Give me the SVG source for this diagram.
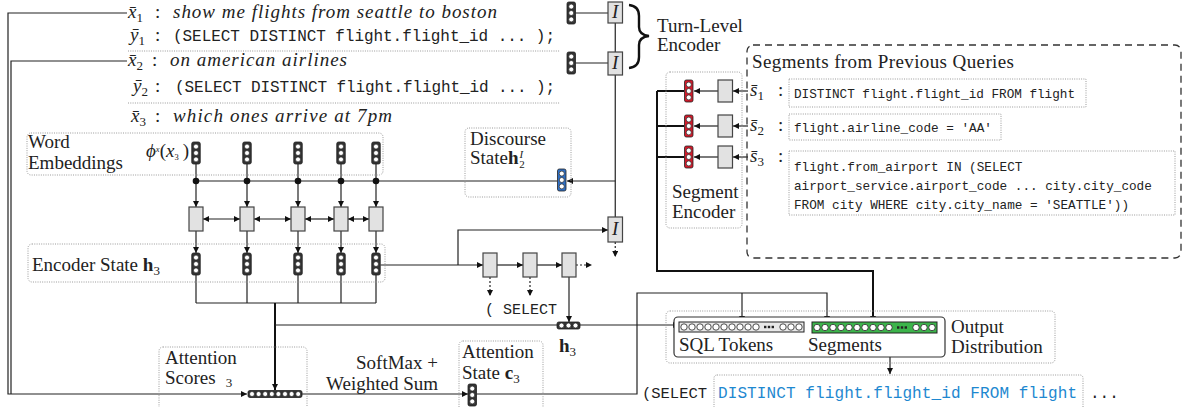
<svg xmlns="http://www.w3.org/2000/svg" width="1188" height="407" viewBox="0 0 1188 407">
<defs>
<style>
.t{font-family:"Liberation Serif","Times New Roman",serif;font-size:19px;fill:#222}
.it{font-family:"Liberation Serif","Times New Roman",serif;font-style:italic;font-size:19px;fill:#222}
.mono{font-family:"Liberation Mono","Courier New",monospace;fill:#222}
.ln{fill:none;stroke:#222;stroke-width:1.2}
.thick{fill:none;stroke:#111;stroke-width:2}
.dash{fill:none;stroke:#222;stroke-width:1.2;stroke-dasharray:2 2}
.dot{fill:none;stroke:#9a9a9a;stroke-width:1;stroke-dasharray:1 1.3}
.box{fill:#e2e2e2;stroke:#444;stroke-width:1.2}
.cw{fill:#fff;stroke:#222;stroke-width:0.7}
</style>
<marker id="ah" viewBox="0 0 6 6" refX="6" refY="3" markerWidth="6" markerHeight="6" markerUnits="userSpaceOnUse" orient="auto-start-reverse"><path d="M0,0 L6,3 L0,6 z" fill="#111"/></marker>
<g id="vv"><rect x="0" y="0" width="8.5" height="22" rx="1.8" stroke="#222" stroke-width="0.8"/><circle class="cw" cx="4.25" cy="4.6" r="2.5"/><circle class="cw" cx="4.25" cy="11" r="2.5"/><circle class="cw" cx="4.25" cy="17.4" r="2.5"/></g>
<g id="hv3"><rect x="0" y="0" width="23" height="7" rx="1.8" fill="#333" stroke="#222" stroke-width="0.8"/><circle class="cw" cx="4.5" cy="3.5" r="2.5"/><circle class="cw" cx="11.5" cy="3.5" r="2.5"/><circle class="cw" cx="18.5" cy="3.5" r="2.5"/></g>
<g id="hv8"><rect x="0" y="0" width="54" height="7" rx="1.8" fill="#333" stroke="#222" stroke-width="0.8"/><circle class="cw" cx="4" cy="3.5" r="2.5"/><circle class="cw" cx="10.6" cy="3.5" r="2.5"/><circle class="cw" cx="17.2" cy="3.5" r="2.5"/><circle class="cw" cx="23.8" cy="3.5" r="2.5"/><circle class="cw" cx="30.4" cy="3.5" r="2.5"/><circle class="cw" cx="37" cy="3.5" r="2.5"/><circle class="cw" cx="43.6" cy="3.5" r="2.5"/><circle class="cw" cx="50.2" cy="3.5" r="2.5"/></g>
</defs>
<rect width="1188" height="407" fill="#fff"/>

<g id="connectors">
<path class="ln" d="M127,13 H8 V394 H247" marker-end="url(#ah)"/>
<path class="ln" d="M127,61 H11 V394"/>
<path class="ln" d="M575.5,13 H608 M575.5,63 H608"/>
<path class="ln" d="M615.25,23 V52 M615.25,75 V217"/>
<path class="ln" d="M615.25,181 H567" marker-end="url(#ah)"/>
<path class="ln" d="M196,181 H557"/>
<path class="ln" d="M196,164 V207" marker-end="url(#ah)"/>
<path class="ln" d="M247,164 V207" marker-end="url(#ah)"/>
<path class="ln" d="M298,164 V207" marker-end="url(#ah)"/>
<path class="ln" d="M341,164 V207" marker-end="url(#ah)"/>
<path class="ln" d="M376,164 V207" marker-end="url(#ah)"/>
<path class="ln" d="M203,219 H240" marker-start="url(#ah)" marker-end="url(#ah)"/>
<path class="ln" d="M254,219 H291" marker-start="url(#ah)" marker-end="url(#ah)"/>
<path class="ln" d="M305,219 H334" marker-start="url(#ah)" marker-end="url(#ah)"/>
<path class="ln" d="M348,219 H369" marker-start="url(#ah)" marker-end="url(#ah)"/>
<path class="ln" d="M196,231 V253" marker-end="url(#ah)"/>
<path class="ln" d="M247,231 V253" marker-end="url(#ah)"/>
<path class="ln" d="M298,231 V253" marker-end="url(#ah)"/>
<path class="ln" d="M341,231 V253" marker-end="url(#ah)"/>
<path class="ln" d="M376,231 V253" marker-end="url(#ah)"/>
<path class="ln" d="M196,275 V303 M247,275 V303 M298,275 V303 M341,275 V303 M376,275 V303 M196,303 H376"/>
<path class="thick" d="M275,303 V390" marker-end="url(#ah)"/>
<path class="ln" d="M275,325 H557"/>
<path class="ln" d="M580,325 H679" marker-end="url(#ah)"/>
<path class="ln" d="M380.5,265 H483" marker-end="url(#ah)"/>
<path class="ln" d="M458,265 V230 H608" marker-end="url(#ah)"/>
<path class="ln" d="M497,265 H523" marker-end="url(#ah)"/>
<path class="ln" d="M537,265 H562" marker-end="url(#ah)"/>
<path class="dash" d="M576,265 H592" marker-end="url(#ah)"/>
<path class="dash" d="M490,277 V296" marker-end="url(#ah)"/>
<path class="dash" d="M530,277 V296" marker-end="url(#ah)"/>
<path class="dash" d="M615.25,242 V257" marker-end="url(#ah)"/>
<path class="ln" d="M569,277 V322" marker-end="url(#ah)"/>
<path class="ln" d="M302,394 H468" marker-end="url(#ah)"/>
<path class="ln" d="M476.5,394 H637 V293 H827 V322" marker-end="url(#ah)"/>
<path class="ln" d="M742,293 V322" marker-end="url(#ah)"/>
<path class="thick" d="M684,91 H657 M684,126 H657 M684,157 H657"/>
<path class="thick" d="M657,91 V271 H873 V322" marker-end="url(#ah)"/>
<path class="ln" d="M718,91 H694" marker-end="url(#ah)"/>
<path class="ln" d="M718,126 H694" marker-end="url(#ah)"/>
<path class="ln" d="M718,157 H694" marker-end="url(#ah)"/>
<path class="ln" d="M748,91 H733" marker-end="url(#ah)"/>
<path class="ln" d="M748,126 H733" marker-end="url(#ah)"/>
<path class="ln" d="M748,157 H733" marker-end="url(#ah)"/>
<path class="ln" d="M890,333 V374" marker-end="url(#ah)"/>
</g>

<g id="utterances">
<text class="it" x="128" y="18">x̄<tspan font-size="13" dy="4" font-style="normal">1</tspan></text>
<text class="t" x="155" y="18">:</text>
<text class="it" x="173" y="18" textLength="324">show me flights from seattle to boston</text>
<text class="it" x="130" y="41">ȳ<tspan font-size="13" dy="4" font-style="normal">1</tspan></text>
<text class="t" x="155" y="41">:</text>
<text class="mono" x="173" y="41" font-size="16" textLength="382">(SELECT DISTINCT flight.flight_id ... );</text>
<line class="dot" x1="128" y1="51" x2="560" y2="51" stroke="#777"/>
<text class="it" x="128" y="66">x̄<tspan font-size="13" dy="4" font-style="normal">2</tspan></text>
<text class="t" x="152" y="66">:</text>
<text class="it" x="170" y="66" textLength="177">on american airlines</text>
<text class="it" x="133" y="92">ȳ<tspan font-size="13" dy="4" font-style="normal">2</tspan></text>
<text class="t" x="155" y="92">:</text>
<text class="mono" x="175" y="92" font-size="16" textLength="380">(SELECT DISTINCT flight.flight_id ... );</text>
<line class="dot" x1="128" y1="103" x2="560" y2="103" stroke="#777"/>
<text class="it" x="131" y="122">x̄<tspan font-size="13" dy="4" font-style="normal">3</tspan></text>
<text class="t" x="155" y="122">:</text>
<text class="it" x="173" y="122" textLength="219">which ones arrive at 7pm</text>
</g>

<g id="turn-encoder">
<use href="#vv" x="567" y="2" fill="#333"/>
<use href="#vv" x="567" y="52" fill="#333"/>
<rect class="box" x="608" y="2" width="14.5" height="21"/>
<text class="it" x="615.25" y="18" font-size="16" text-anchor="middle">I</text>
<rect class="box" x="608" y="52" width="14.5" height="23"/>
<text class="it" x="615.25" y="69" font-size="16" text-anchor="middle">I</text>
<path d="M629,5 Q639,6 639,16 L639,27 Q639,35 649,36 Q639,37 639,45 L639,57 Q639,67 629,68" fill="none" stroke="#111" stroke-width="2.4"/>
<text class="t" x="657" y="32">Turn-Level</text>
<text class="t" x="657" y="51">Encoder</text>
</g>

<g id="word-embeddings">
<rect class="dot" x="27" y="133" width="356" height="42" rx="4"/>
<text class="t" x="28" y="148" font-size="18">Word</text>
<text class="t" x="28" y="169" font-size="18">Embeddings</text>
<text class="it" x="146" y="157" font-size="12">ϕ<tspan font-size="8.5" dy="-5">x</tspan><tspan dy="5" font-style="normal">(</tspan>x<tspan font-size="8.5" dy="3" font-style="normal">3</tspan><tspan dx="4" dy="-3" font-style="normal">)</tspan></text>
<use href="#vv" x="191.75" y="142" fill="#333"/>
<use href="#vv" x="242.75" y="142" fill="#333"/>
<use href="#vv" x="293.75" y="142" fill="#333"/>
<use href="#vv" x="336.75" y="142" fill="#333"/>
<use href="#vv" x="371.75" y="142" fill="#333"/>
<circle cx="196" cy="181" r="3.3" fill="#111"/>
<circle cx="247" cy="181" r="3.3" fill="#111"/>
<circle cx="298" cy="181" r="3.3" fill="#111"/>
<circle cx="341" cy="181" r="3.3" fill="#111"/>
<circle cx="376" cy="181" r="3.3" fill="#111"/>
</g>

<g id="bilstm">
<rect class="box" x="189" y="207" width="14" height="24"/>
<rect class="box" x="240" y="207" width="14" height="24"/>
<rect class="box" x="291" y="207" width="14" height="24"/>
<rect class="box" x="334" y="207" width="14" height="24"/>
<rect class="box" x="369" y="207" width="14" height="24"/>
</g>

<g id="encoder-state">
<rect class="dot" x="28" y="244" width="357" height="38" rx="4"/>
<text class="t" x="32" y="271">Encoder State <tspan font-weight="bold">h</tspan><tspan font-size="13" dy="4">3</tspan></text>
<use href="#vv" x="191.75" y="253" fill="#333"/>
<use href="#vv" x="242.75" y="253" fill="#333"/>
<use href="#vv" x="293.75" y="253" fill="#333"/>
<use href="#vv" x="336.75" y="253" fill="#333"/>
<use href="#vv" x="371.75" y="253" fill="#333"/>
</g>

<g id="discourse-state">
<rect class="dot" x="465" y="128" width="106" height="69" rx="4"/>
<text class="t" x="470" y="145">Discourse</text>
<text class="t" x="470" y="164">State<tspan font-weight="bold">h</tspan><tspan font-size="11" font-style="italic" dx="1" dy="-6">I</tspan><tspan font-size="11" dx="-4" dy="10">2</tspan></text>
<use href="#vv" x="557.5" y="169" fill="#2f6fc4"/>
</g>

<g id="decoder">
<rect class="box" x="608" y="217" width="14.5" height="25"/>
<text class="it" x="615.25" y="235" font-size="16" text-anchor="middle">I</text>
<rect class="box" x="483" y="253" width="14" height="24"/>
<rect class="box" x="523" y="253" width="14" height="24"/>
<rect class="box" x="562" y="253" width="14" height="24"/>
<text class="mono" x="485" y="314" font-size="15" textLength="72">( SELECT</text>
<use href="#hv3" x="557" y="322"/>
<text class="t" x="559" y="352" font-weight="bold">h<tspan font-weight="normal" font-size="13" dy="4">3</tspan></text>
</g>

<g id="segment-encoder">
<rect class="dot" x="666" y="72" width="76" height="156" rx="4"/>
<use href="#vv" x="684.5" y="80" fill="#d11a2a"/>
<use href="#vv" x="684.5" y="115" fill="#d11a2a"/>
<use href="#vv" x="684.5" y="146" fill="#d11a2a"/>
<rect class="box" x="718" y="80" width="14.5" height="22"/>
<rect class="box" x="718" y="115" width="14.5" height="22"/>
<rect class="box" x="718" y="146" width="14.5" height="22"/>
<text class="t" x="672" y="198">Segment</text>
<text class="t" x="672" y="218">Encoder</text>
</g>

<g id="previous-segments">
<rect x="747" y="45" width="434" height="213" rx="6" fill="none" stroke="#333" stroke-width="1.3" stroke-dasharray="7 5"/>
<text class="t" x="752" y="68" textLength="262">Segments from Previous Queries</text>
<text class="it" x="750" y="96">s̄<tspan font-size="13" dy="4" font-style="normal">1</tspan></text>
<text class="t" x="778" y="96">:</text>
<text class="it" x="750" y="131">s̄<tspan font-size="13" dy="4" font-style="normal">2</tspan></text>
<text class="t" x="778" y="131">:</text>
<text class="it" x="750" y="162">s̄<tspan font-size="13" dy="4" font-style="normal">3</tspan></text>
<text class="t" x="778" y="162">:</text>
<rect class="dot" x="789" y="79" width="297" height="28" stroke="#666"/>
<text class="mono" x="794" y="98" font-size="12.7" textLength="281">DISTINCT flight.flight_id FROM flight</text>
<rect class="dot" x="789" y="114" width="212" height="26" stroke="#666"/>
<text class="mono" x="794" y="132" font-size="12.7">flight.airline_code = 'AA'</text>
<rect class="dot" x="789" y="151" width="386" height="64" stroke="#666"/>
<text class="mono" x="794" y="171" font-size="12.7">flight.from_airport IN (SELECT</text>
<text class="mono" x="794" y="190" font-size="12.7">airport_service.airport_code ... city.city_code</text>
<text class="mono" x="794" y="209" font-size="12.7">FROM city WHERE city.city_name = 'SEATTLE'))</text>
</g>

<g id="attention-scores">
<rect class="dot" x="159" y="347" width="148" height="70" rx="4"/>
<text class="t" x="165" y="364">Attention</text>
<text class="t" x="165" y="384">Scores<tspan font-size="13" dx="10" dy="3">3</tspan></text>
<use href="#hv8" x="248" y="390.5"/>
</g>

<g id="softmax-label">
<text class="t" x="438" y="369" font-size="18" text-anchor="end">SoftMax +</text>
<text class="t" x="438" y="390" font-size="18" text-anchor="end">Weighted Sum</text>
</g>

<g id="attention-state">
<rect class="dot" x="459" y="341" width="84" height="70" rx="4"/>
<text class="t" x="462" y="358">Attention</text>
<text class="t" x="462" y="379">State <tspan font-weight="bold">c</tspan><tspan font-size="13" dy="4">3</tspan></text>
<use href="#vv" x="468" y="384" fill="#333"/>
</g>

<g id="output-distribution">
<rect class="dot" x="666" y="311" width="389" height="52" rx="4"/>
<rect x="674" y="317" width="271" height="40" rx="4" fill="#fff" stroke="#333" stroke-width="1.2"/>
<rect x="679" y="322" width="125" height="10" fill="#e8e8e8" stroke="#222" stroke-width="1"/>
<g fill="#fff" stroke="#222" stroke-width="0.8">
<circle cx="684" cy="327" r="3.2"/><circle cx="692" cy="327" r="3.2"/><circle cx="700" cy="327" r="3.2"/><circle cx="708" cy="327" r="3.2"/><circle cx="716" cy="327" r="3.2"/><circle cx="724" cy="327" r="3.2"/><circle cx="732" cy="327" r="3.2"/><circle cx="740" cy="327" r="3.2"/><circle cx="748" cy="327" r="3.2"/><circle cx="756" cy="327" r="3.2"/>
<circle cx="783" cy="327" r="3.2"/><circle cx="791" cy="327" r="3.2"/><circle cx="799" cy="327" r="3.2"/>
</g>
<g fill="#222"><rect x="764" y="325.8" width="2.4" height="2.4"/><rect x="767.8" y="325.8" width="2.4" height="2.4"/><rect x="771.6" y="325.8" width="2.4" height="2.4"/></g>
<rect x="812" y="322" width="125" height="11" fill="#3cb44b" stroke="#222" stroke-width="1"/>
<g fill="#fff" stroke="#222" stroke-width="0.8">
<circle cx="817" cy="327.5" r="3.2"/><circle cx="825" cy="327.5" r="3.2"/><circle cx="833" cy="327.5" r="3.2"/><circle cx="841" cy="327.5" r="3.2"/><circle cx="849" cy="327.5" r="3.2"/><circle cx="857" cy="327.5" r="3.2"/><circle cx="865" cy="327.5" r="3.2"/><circle cx="873" cy="327.5" r="3.2"/><circle cx="881" cy="327.5" r="3.2"/><circle cx="889" cy="327.5" r="3.2"/>
<circle cx="916" cy="327.5" r="3.2"/><circle cx="924" cy="327.5" r="3.2"/><circle cx="932" cy="327.5" r="3.2"/>
</g>
<g fill="#222"><rect x="897" y="326.3" width="2.4" height="2.4"/><rect x="900.8" y="326.3" width="2.4" height="2.4"/><rect x="904.6" y="326.3" width="2.4" height="2.4"/></g>
<text class="t" x="679" y="351">SQL Tokens</text>
<text class="t" x="808" y="351">Segments</text>
<text class="t" x="951" y="333">Output</text>
<text class="t" x="951" y="353">Distribution</text>
</g>

<g id="output-query">
<text class="mono" x="642" y="398" font-size="15.5" textLength="65">(SELECT</text>
<rect class="dot" x="714" y="375" width="369" height="36" rx="3" stroke="#888"/>
<text class="mono" x="718" y="398" font-size="16" textLength="359" style="fill:#1e88d0">DISTINCT flight.flight_id FROM flight</text>
<text class="mono" x="1090" y="398" font-size="16">...</text>
</g>
</svg>
